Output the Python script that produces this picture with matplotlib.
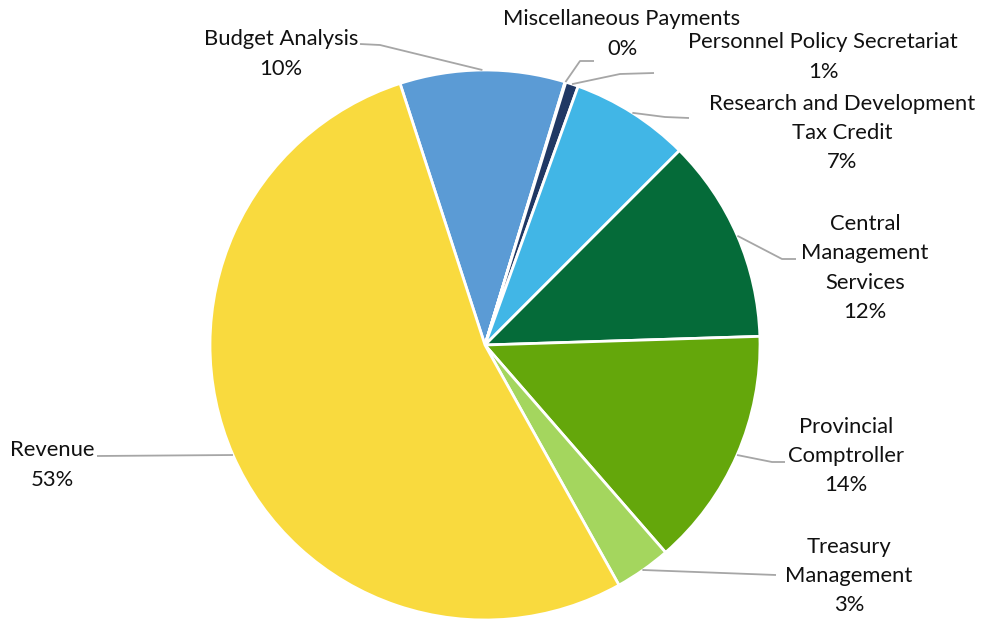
import numpy as np
import matplotlib
matplotlib.use("Agg")
import matplotlib.pyplot as plt

plt.rcParams['font.family'] = ['Lato', 'DejaVu Sans']

categories = ["Budget Analysis", "Miscellaneous Payments", "Personnel Policy Secretariat",
              "Research and Development\nTax Credit", "Central\nManagement\nServices",
              "Provincial\nComptroller", "Treasury\nManagement", "Revenue"]
values = [9.7, 0.05, 0.75, 7.0, 12.0, 14.1, 3.3, 53.1]
colors = ["#5B9BD5", "#FFFFFF", "#203864", "#41B6E6", "#056B39", "#64A70B", "#A4D65E", "#F9DA3E"]

# layout (image pixel coords, y from top): label centre, elbow point, line end
label_pos = [(281, 52), (622, 32), (823, 55), (842, 131), (865, 266), (846, 454), (849, 574), (52, 463)]
line_end = [(360, 44), (594, 61), (654, 73), (689, 118), (796, 259), (785, 462), (776, 575), (97, 456)]
line_elbow = [(380, 45), (580, 61), (620, 74), (665, 117), (782, 259), (772, 462), (643, 570), (97, 456)]
LINE_STEP = 29.3

W, H = 981, 621
fig = plt.figure(figsize=(W / 100, H / 100), dpi=100)
ax = fig.add_axes([0, 0, 1, 1])
cx, cy, R = 485, H - 345, 275
wedges, _ = ax.pie(values, colors=colors, startangle=108, counterclock=False,
                   center=(cx, cy), radius=R, frame=False,
                   wedgeprops=dict(edgecolor="white", linewidth=2.0))
ax.set_xlim(0, W)
ax.set_ylim(0, H)
ax.set_aspect("equal")
ax.axis("off")

total = sum(values)
for i, w in enumerate(wedges):
    mid = np.deg2rad((w.theta1 + w.theta2) / 2)
    ax_pt = (cx + R * np.cos(mid), cy + R * np.sin(mid))
    ex, ey = line_elbow[i]
    lx, ly = line_end[i]
    ax.plot([ax_pt[0], ex, lx], [ax_pt[1], H - ey, H - ly], color="#A6A6A6", lw=1.3,
            solid_capstyle="butt", zorder=1)
    pct = round(values[i] / total * 100)
    lines = categories[i].split("\n") + [f"{pct}%"]
    tx, ty = label_pos[i]
    n = len(lines)
    for k, s in enumerate(lines):
        yy = ty + (k - (n - 1) / 2) * LINE_STEP
        ax.text(tx, H - yy, s, ha="center", va="center_baseline",
                fontsize=15.8, color="#111111")

fig.savefig("out.png", dpi=100)
